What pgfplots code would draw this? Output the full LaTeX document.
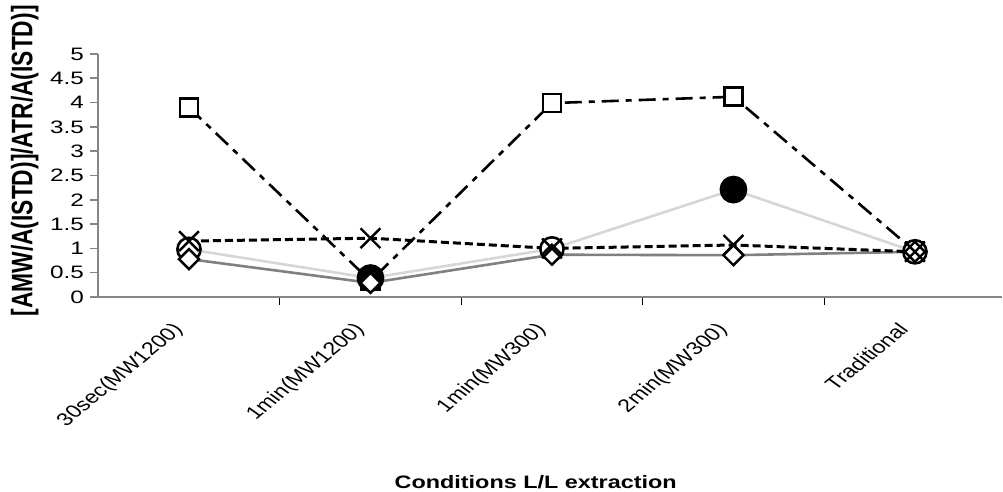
\documentclass[border=0pt]{standalone}
\usepackage{fontspec}
\setmainfont{Liberation Sans}
\newfontfamily\wide[FakeStretch=1.3]{Liberation Sans}
\usepackage{pgfplots}
\pgfplotsset{compat=1.18}
\definecolor{axgray}{HTML}{858585}
\definecolor{lightln}{HTML}{D6D6D6}
\definecolor{darkln}{HTML}{808080}
\begin{document}
\begin{tikzpicture}
\useasboundingbox (0,0) rectangle (501.5pt,246pt);
\begin{axis}[
  at={(49.125pt,97.5pt)}, anchor=south west,
  scale only axis, width=451.9pt, height=121.5pt,
  xmin=-0.5, xmax=4.48, ymin=0, ymax=5,
  clip=false,
  axis lines*=left,
  axis line style={axgray, line width=1pt},
  ytick={0,0.5,...,5},
  xtick={0,1,2,3,4},
  xticklabels={30sec(MW1200),1min(MW1200),1min(MW300),2min(MW300),Traditional},
  minor xtick={0.5,1.5,2.5,3.5},
  tick align=outside,
  major x tick style={draw=none},
  minor x tick style={black, line width=0.5pt},
  minor tick length=4pt,
  major tick length=4pt,
  y tick style={axgray, line width=0.8pt},
  /pgf/number format/assume math mode=true,
  yticklabel={\scalebox{1.35}[1]{\pgfmathprintnumber{\tick}}},
  yticklabel style={font=\fontsize{9}{10}\selectfont, inner sep=0pt, anchor=east, xshift=-3pt},
  xticklabel style={font=\fontsize{9}{10}\selectfont, inner sep=0pt, anchor=north east, xshift=-9pt, yshift=-8pt, xscale=1.3, rotate=47},
  xlabel={Conditions L/L extraction},
  xlabel style={font=\wide\bfseries\fontsize{9}{10}\selectfont, at={(axis description cs:0.484,0)}, anchor=base, yshift=-96pt, inner sep=0pt},
  ylabel={[AMW/A(ISTD)]/ATR/A(ISTD)]},
  ylabel style={font=\bfseries\fontsize{11.4}{12}\selectfont, at={(axis description cs:-0.073,0.56)}, anchor=base, inner sep=0pt, yscale=1.3},
]
% squares, dash-dot
\addplot[black, line width=1.3pt, dash pattern=on 8.5pt off 3.5pt on 3pt off 3.5pt,
  mark=square*, mark size=4.5pt, mark options={solid, fill=white, draw=black, line width=1.3pt}]
  coordinates {(0,3.90) (1,0.33) (2,3.99) (3,4.12) (4,0.94)};
% circles, light gray line; filled where visible as solid
\addplot[lightln, line width=1.3pt,
  mark=*, mark indices={2,4}, mark size=6.3pt, mark options={solid, fill=black, draw=black}]
  coordinates {(0,0.98) (1,0.39) (2,0.99) (3,2.21) (4,0.93)};
% circles that show as rings
\addplot[only marks, mark=*, mark indices={1,3,5}, mark size=5.8pt,
  mark options={solid, fill=white, draw=black, line width=1.3pt}]
  coordinates {(0,0.98) (1,0.39) (2,0.99) (3,2.21) (4,0.93)};
% diamonds, dark gray
\addplot[darkln, line width=1.3pt,
  mark=diamond*, mark size=5pt, mark options={solid, fill=white, draw=black, line width=1.2pt, xscale=1.33}]
  coordinates {(0,0.78) (1,0.29) (2,0.87) (3,0.86) (4,0.93)};
% crosses, dotted
\addplot[black, line width=1.5pt, dash pattern=on 4pt off 2pt,
  mark=x, mark size=7pt, mark options={solid, draw=black, line width=1.2pt}]
  coordinates {(0,1.15) (1,1.21) (2,1.00) (3,1.07) (4,0.93)};
\end{axis}
\end{tikzpicture}
\end{document}
